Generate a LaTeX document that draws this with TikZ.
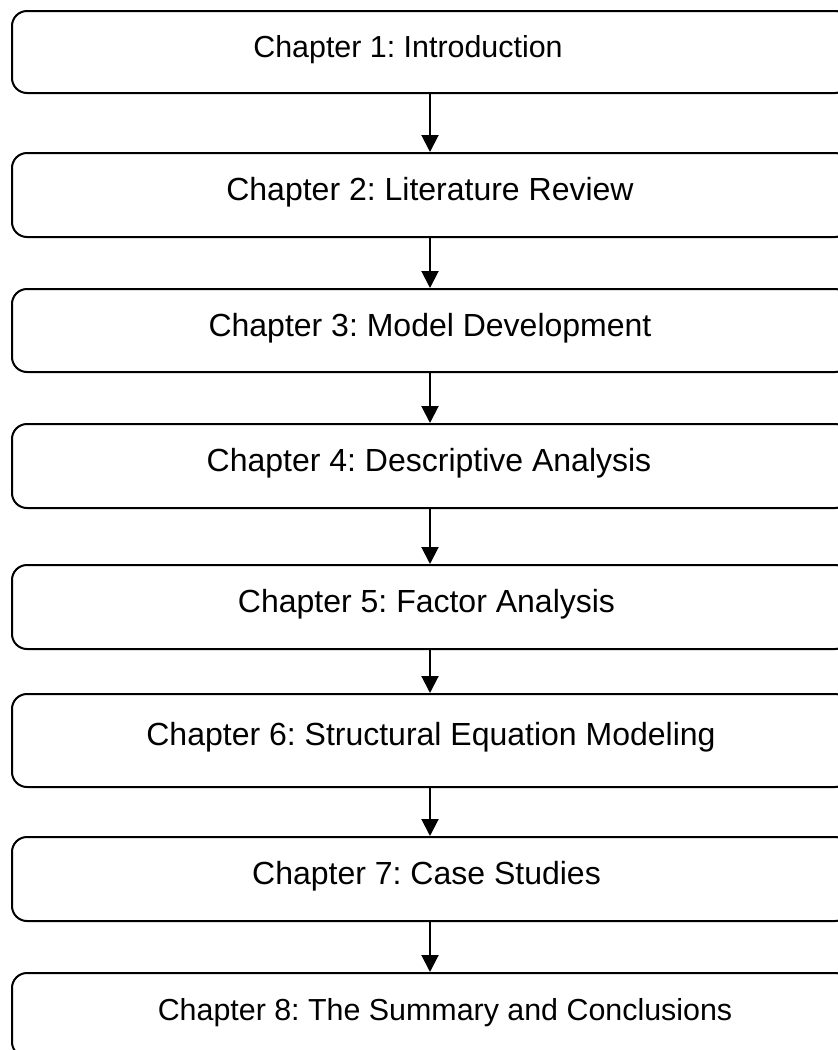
\documentclass[tikz,border=0pt]{standalone}
\usepackage{fontspec}
\setmainfont{Liberation Sans}
\usetikzlibrary{arrows.meta}
\frenchspacing
\tikzset{
  chapbox/.style={draw=black, line width=2pt, rounded corners=15pt,
    rectangle, minimum width=838pt, inner sep=0pt, fill=white},
  chaptext/.style={anchor=base, font=\fontsize{30.4}{36}\selectfont, inner sep=0pt},
  bigtext/.style={chaptext, font=\fontsize{32}{38}\selectfont},
  flow/.style={draw=black, line width=2pt, -{Triangle[width=17pt,length=17pt]}}
}
\begin{document}
\begin{tikzpicture}[x=1pt, y=-1pt]
  \useasboundingbox (0,0) rectangle (838,1050);
  \clip (0,0) rectangle (838,1050);
  % chapter boxes (right edge runs off the page)
  \node[chapbox, minimum height=82pt] (b1) at (431,52) {};
  \node[chapbox, minimum height=84pt] (b2) at (431,195) {};
  \node[chapbox, minimum height=83pt] (b3) at (431,330.5) {};
  \node[chapbox, minimum height=84pt] (b4) at (431,466) {};
  \node[chapbox, minimum height=84pt] (b5) at (431,607) {};
  \node[chapbox, minimum height=93pt] (b6) at (431,740.5) {};
  \node[chapbox, minimum height=84pt] (b7) at (431,879) {};
  \node[chapbox, minimum height=84pt] (b8) at (431,1015) {};
  % chapter titles
  \node[chaptext] (t1) at (408,57) {Chapter 1: Introduction};
  \node[bigtext] (t2) at (430,200) {Chapter 2: Literature Review};
  \node[bigtext] (t3) at (430,336) {Chapter 3: Model Development};
  \node[bigtext] (t4) at (429,471) {Chapter 4: Descriptive Analysis};
  \node[bigtext] (t5) at (426.5,612) {Chapter 5: Factor Analysis};
  \node[bigtext] (t6) at (431,745) {Chapter 6: Structural Equation Modeling};
  \node[bigtext] (t7) at (426.5,884) {Chapter 7: Case Studies};
  \node[chaptext] (t8) at (445,1020) {Chapter 8: The Summary and Conclusions};
  % flow arrows
  \foreach \a/\b in {b1/b2,b2/b3,b3/b4,b4/b5,b5/b6,b6/b7,b7/b8}
    \draw[flow] ([xshift=-1pt]\a.south) -- ([xshift=-1pt]\b.north);
\end{tikzpicture}
\end{document}
